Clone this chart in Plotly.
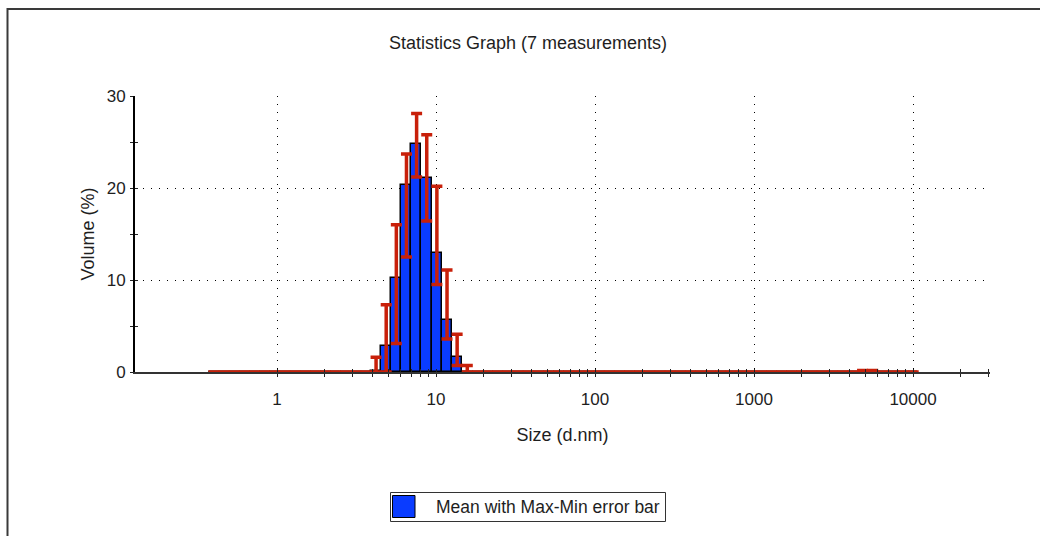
import math
import plotly.graph_objects as go

# ---------------- data ----------------
size_nm = [0.4, 0.4632, 0.5365, 0.6213, 0.7195, 0.8332, 0.9649, 1.117, 1.294, 1.499,
           1.736, 2.01, 2.328, 2.696, 3.122, 3.615, 4.187, 4.849, 5.615, 6.503,
           7.531, 8.721, 10.1, 11.7, 13.54, 15.69, 18.17, 21.04, 24.36, 28.21,
           32.67, 37.84, 43.82, 50.75, 58.77, 68.06, 78.82, 91.28, 105.7, 122.4,
           141.8, 164.2, 190.1, 220.2, 255.0, 295.3, 342.0, 396.1, 458.7, 531.2,
           615.1, 712.4, 825.0, 955.4, 1106, 1281, 1484, 1718, 1990, 2305,
           2669, 3091, 3580, 4145, 4801, 5560, 6439, 7456, 8635, 10000]

mean_volume = [0, 0, 0, 0, 0, 0, 0, 0, 0, 0,
               0, 0, 0, 0, 0, 0, 0.1, 2.8, 10.2, 20.3,
               24.8, 21.1, 12.9, 5.6, 1.6, 0, 0, 0, 0, 0,
               0, 0, 0, 0, 0, 0, 0, 0, 0, 0,
               0, 0, 0, 0, 0, 0, 0, 0, 0, 0,
               0, 0, 0, 0, 0, 0, 0, 0, 0, 0,
               0, 0, 0, 0, 0, 0, 0, 0, 0, 0]

max_volume = [0, 0, 0, 0, 0, 0, 0, 0, 0, 0,
              0, 0, 0, 0, 0, 0, 1.6, 7.3, 16.0, 23.7,
              28.1, 25.8, 20.2, 11.1, 4.1, 0.7, 0, 0, 0, 0,
              0, 0, 0, 0, 0, 0, 0, 0, 0, 0,
              0, 0, 0, 0, 0, 0, 0, 0, 0, 0,
              0, 0, 0, 0, 0, 0, 0, 0, 0, 0,
              0, 0, 0, 0, 0.15, 0.15, 0, 0, 0, 0]

min_volume = [0, 0, 0, 0, 0, 0, 0, 0, 0, 0,
              0, 0, 0, 0, 0, 0, 0, 0, 3.1, 12.5,
              21.2, 16.4, 9.5, 3.6, 0.7, 0, 0, 0, 0, 0,
              0, 0, 0, 0, 0, 0, 0, 0, 0, 0,
              0, 0, 0, 0, 0, 0, 0, 0, 0, 0,
              0, 0, 0, 0, 0, 0, 0, 0, 0, 0,
              0, 0, 0, 0, 0, 0, 0, 0, 0, 0]

x_major_ticks = [1, 10, 100, 1000, 10000]
x_major_labels = ["1", "10", "100", "1000", "10000"]
x_minor_ticks = [2, 3, 4, 5, 6, 7, 8, 9,
                 20, 30, 40, 50, 60, 70, 80, 90,
                 200, 300, 400, 500, 600, 700, 800, 900,
                 2000, 3000, 4000, 5000, 6000, 7000, 8000, 9000,
                 20000, 30000]
y_major_ticks = [0, 10, 20, 30]
y_minor_ticks = [5, 15, 25]

title_text = "Statistics Graph (7 measurements)"
x_title = "Size (d.nm)"
y_title = "Volume (%)"
series_name = "Mean with Max-Min error bar"

# ---------------- layout constants ----------------
W, H = 1040, 536
L, R, T, B = 135, 50, 96, 164
PW, PH = W - L - R, H - T - B
FONT = "Liberation Sans, Arial, sans-serif"
TXT = "#1e1e1e"
BLUE = "#0A3CFF"
RED = "#C8200A"


def px(xp):
    return (xp - L) / PW


def py(yp):
    return (H - B - yp) / PH


# bin edges (geometric midpoints between neighbouring size classes)
n = len(size_nm)
edges = []
for i in range(n + 1):
    if i == 0:
        edges.append(size_nm[0] ** 2 / math.sqrt(size_nm[0] * size_nm[1]))
    elif i == n:
        edges.append(size_nm[-1] ** 2 / math.sqrt(size_nm[-1] * size_nm[-2]))
    else:
        edges.append(math.sqrt(size_nm[i - 1] * size_nm[i]))
bar_width = [edges[i + 1] - edges[i] for i in range(n)]
bar_offset = [edges[i] - size_nm[i] for i in range(n)]

err_plus = [mx - m for mx, m in zip(max_volume, mean_volume)]
err_minus = [m - mn for m, mn in zip(mean_volume, min_volume)]

fig = go.Figure()
fig.add_trace(go.Bar(
    x=size_nm, y=mean_volume, name=series_name,
    width=bar_width, offset=bar_offset,
    marker=dict(color=BLUE, line=dict(color="black", width=1.5)),
    error_y=dict(type="data", symmetric=False, array=err_plus, arrayminus=err_minus,
                 color=RED, thickness=3.5, width=5.5),
    showlegend=False,
))
# helper overlay axes for tick marks on the inner side
fig.add_trace(go.Scatter(x=[], y=[], xaxis="x2", yaxis="y2", showlegend=False,
                         hoverinfo="skip"))

xrange = [-0.893, 4.484]
grid_dash = "1px,7px"

fig.update_layout(
    width=W, height=H,
    margin=dict(l=L, r=R, t=T, b=B, pad=0),
    paper_bgcolor="white", plot_bgcolor="white",
    bargap=0,
    showlegend=False,
    font=dict(family=FONT, size=17, color=TXT),
    title=dict(text=title_text, x=528 / W, xref="container", xanchor="center",
               y=1 - 43 / H, yref="container", yanchor="middle",
               font=dict(family=FONT, size=18, color=TXT)),
    xaxis=dict(type="log", range=xrange,
               tickmode="array", tickvals=x_major_ticks, ticktext=x_major_labels,
               ticks="outside", ticklen=3, tickwidth=1, tickcolor="#222",
               minor=dict(tickmode="array", tickvals=x_minor_ticks, ticks="outside",
                          ticklen=3, tickwidth=1, tickcolor="#222", showgrid=False),
               showgrid=True, gridcolor="black", gridwidth=1, griddash=grid_dash,
               showline=True, linecolor="#333", linewidth=2,
               zeroline=False, layer="below traces",
               tickfont=dict(family=FONT, size=17, color=TXT),
               ticklabelstandoff=8,
               title=dict(text=x_title, standoff=20,
                          font=dict(family=FONT, size=18, color=TXT))),
    yaxis=dict(range=[0, 30], tickmode="array", tickvals=y_major_ticks,
               ticks="outside", ticklen=3, tickwidth=1, tickcolor="#222",
               minor=dict(tickmode="array", tickvals=y_minor_ticks, ticks="outside",
                          ticklen=3, tickwidth=1, tickcolor="#222", showgrid=False),
               showgrid=True, gridcolor="black", gridwidth=1, griddash=grid_dash,
               showline=True, linecolor="black", linewidth=2,
               zeroline=False, layer="below traces",
               tickfont=dict(family=FONT, size=17, color=TXT),
               ticklabelstandoff=1,
               title=dict(text=y_title, standoff=7,
                          font=dict(family=FONT, size=18, color=TXT))),
    xaxis2=dict(type="log", range=xrange, overlaying="x", anchor="y", side="bottom",
                tickmode="array", tickvals=x_major_ticks + x_minor_ticks,
                ticks="inside", ticklen=3, tickwidth=1, tickcolor="#222",
                showticklabels=False, showgrid=False, showline=False, zeroline=False),
    yaxis2=dict(range=[0, 30], overlaying="y", anchor="x", side="left",
                tickmode="array", tickvals=y_major_ticks + y_minor_ticks,
                ticks="inside", ticklen=3, tickwidth=1, tickcolor="#222",
                showticklabels=False, showgrid=False, showline=False, zeroline=False),
)

shapes = [
    # outer frame
    dict(type="rect", xref="paper", yref="paper",
         x0=px(7.5), x1=px(1060), y0=py(560), y1=py(9),
         line=dict(color="#3a3a3a", width=2), fillcolor="rgba(0,0,0,0)", layer="below"),
    # legend box
    dict(type="rect", xref="paper", yref="paper",
         x0=px(390.5), x1=px(665.5), y0=py(521.5), y1=py(492.5),
         line=dict(color="#333", width=1), fillcolor="white"),
    # legend swatch
    dict(type="rect", xref="paper", yref="paper",
         x0=px(392.5), x1=px(415), y0=py(517.5), y1=py(495.5),
         line=dict(color="black", width=1), fillcolor=BLUE),
]
fig.update_layout(shapes=shapes)
fig.add_annotation(text=series_name, xref="paper", yref="paper",
                   x=px(434), y=py(507), xanchor="left", yanchor="middle",
                   showarrow=False, font=dict(family=FONT, size=17.5, color=TXT))

fig.write_html("out.html")
